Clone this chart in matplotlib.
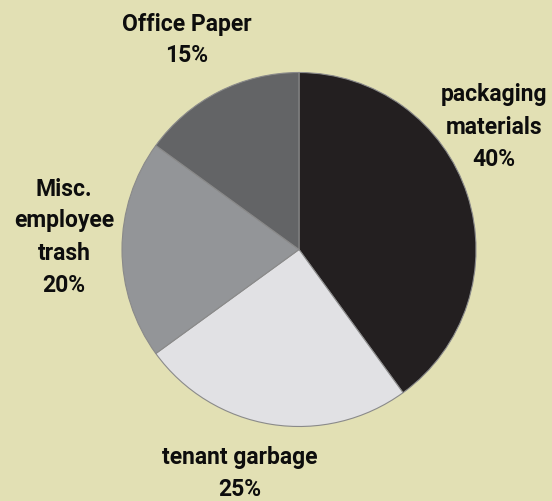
import matplotlib.pyplot as plt

# waste composition
categories = ['packaging\nmaterials', 'tenant garbage', 'Misc.\nemployee\ntrash', 'Office Paper']
shares = [40, 25, 20, 15]
colors = ['#231f20', '#e1e1e4', '#939598', '#636466']

# label anchor positions in pixels (x, y from top)
label_pos = [(494, 127), (240, 474), (64, 237), (187, 40)]

W, H = 552, 502
bg = '#e2e0b4'

fig = plt.figure(figsize=(W / 100, H / 100), dpi=100, facecolor=bg)
ax = fig.add_axes([0, 0, 1, 1])
ax.set_facecolor(bg)

ax.pie(shares, colors=colors, startangle=90, counterclock=False,
       center=(299, H - 250.5), radius=177, frame=True,
       wedgeprops=dict(edgecolor='#8a8a8a', linewidth=0.8))
ax.set_xlim(0, W)
ax.set_ylim(0, H)
ax.set_aspect('equal')
ax.axis('off')

for cat, val, (x, y) in zip(categories, shares, label_pos):
    ax.text(x, H - y, f'{cat}\n{val}%', ha='center', va='center',
            fontsize=16.5, fontweight='bold', linespacing=1.5,
            family=['Roboto', 'DejaVu Sans'], color='#0d0d0d')

fig.savefig('out.png', dpi=100, facecolor=bg)
